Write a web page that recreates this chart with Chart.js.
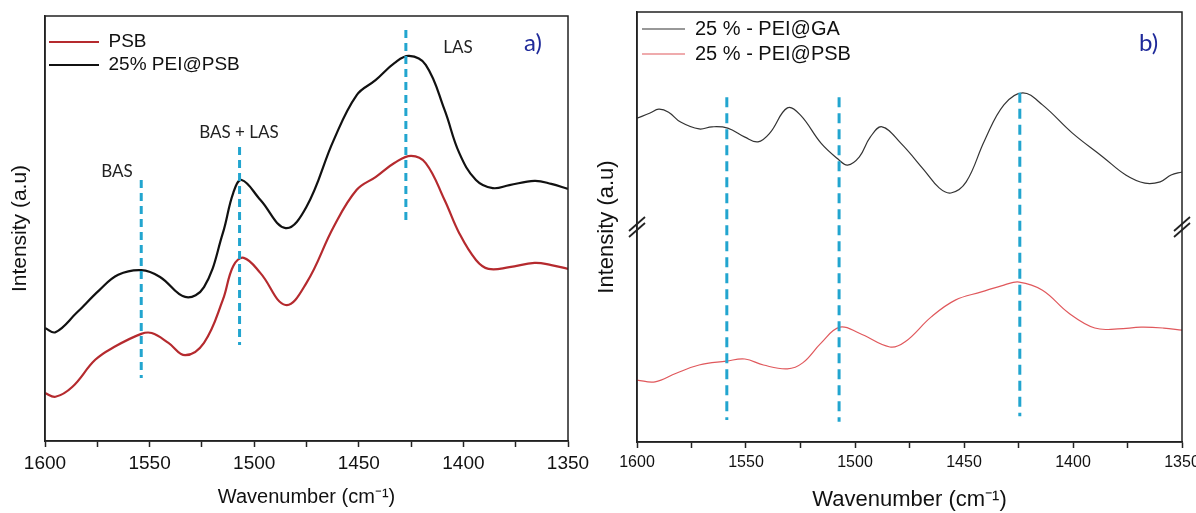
<!DOCTYPE html>
<html>
<head>
<meta charset="utf-8">
<script src="https://cdn.jsdelivr.net/npm/chart.js@4.4.1/dist/chart.umd.min.js"></script>
<style>
  html, body { margin: 0; padding: 0; background: #fff; }
  #wrap { position: relative; width: 1196px; height: 513px; overflow: hidden; }
  .panel { position: absolute; top: 0; height: 513px; }
  #panelA { left: 0; width: 590px; }
  #panelB { left: 590px; width: 606px; }
</style>
</head>
<body>
<div id="wrap">
  <div class="panel" id="panelA"><canvas id="chartA"></canvas></div>
  <div class="panel" id="panelB"><canvas id="chartB"></canvas></div>
</div>
<script>
// a) PSB vs 25% PEI@PSB  (wavenumber cm-1 / intensity a.u.)
var wnPSB = [1600, 1595, 1587, 1576, 1567, 1554, 1549, 1541, 1533, 1524, 1515, 1510, 1505, 1497, 1485, 1475,
  1462, 1451, 1442, 1433, 1425, 1418, 1409, 1402, 1394, 1388, 1378, 1366, 1358, 1350];
var intPSB = [0.113, 0.104, 0.127, 0.191, 0.221, 0.252, 0.254, 0.231, 0.202, 0.231, 0.332, 0.412, 0.431, 0.395, 0.320, 0.372,
  0.504, 0.591, 0.621, 0.654, 0.671, 0.654, 0.567, 0.489, 0.426, 0.405, 0.409, 0.419, 0.414, 0.405];

var wnPEI = [1600, 1595, 1585, 1574, 1565, 1554, 1545, 1533, 1524, 1515, 1510, 1506, 1497, 1485, 1475,
  1462, 1451, 1442, 1433, 1426, 1418, 1409, 1402, 1394, 1386, 1378, 1366, 1358, 1350];
var intPEI = [0.266, 0.256, 0.301, 0.355, 0.391, 0.402, 0.386, 0.339, 0.362, 0.489, 0.584, 0.614, 0.567, 0.501, 0.551,
  0.708, 0.814, 0.849, 0.889, 0.906, 0.885, 0.779, 0.678, 0.614, 0.595, 0.602, 0.612, 0.605, 0.593];

// dashed band markers in a)
var bandsA = [1554, 1507, 1427.5];
var bandsATop = [0.614, 0.692, 0.967];
var bandsABottom = [0.148, 0.226, 0.520];

// b) 25 % - PEI@GA vs 25 % - PEI@PSB
var wnGA = [1600, 1594, 1590, 1585.5, 1580, 1571.5, 1565.6, 1558.4, 1550.5, 1544.5, 1539, 1531, 1525, 1515.6,
  1507.8, 1503.4, 1498, 1493, 1487.6, 1479, 1468.4, 1461.4, 1456, 1449, 1440.5, 1431.7, 1423, 1414,
  1400.4, 1386.3, 1375.8, 1367, 1360, 1355, 1350];
var intGA = [0.753, 0.765, 0.774, 0.767, 0.744, 0.728, 0.733, 0.730, 0.709, 0.698, 0.719, 0.777, 0.760, 0.695,
  0.658, 0.644, 0.663, 0.709, 0.733, 0.695, 0.633, 0.591, 0.579, 0.605, 0.702, 0.784, 0.812, 0.784,
  0.719, 0.663, 0.621, 0.602, 0.605, 0.621, 0.628];

var wnGAPSB = [1600, 1591.7, 1582, 1571.5, 1559, 1550.5, 1542, 1531, 1524, 1515.6, 1507, 1498, 1484,
  1477, 1465, 1454, 1442, 1431.7, 1424.7, 1414, 1402, 1390, 1379.4, 1368.8, 1358.4, 1350];
var intGAPSB = [0.144, 0.140, 0.160, 0.179, 0.188, 0.193, 0.179, 0.170, 0.184, 0.230, 0.267, 0.253, 0.221,
  0.233, 0.291, 0.330, 0.349, 0.365, 0.372, 0.353, 0.300, 0.265, 0.263, 0.267, 0.265, 0.260];

var bandsB = [1558.8, 1507.3, 1424.4];
var bandsBTop = [0.802, 0.802, 0.812];
var bandsBBottom = [0.051, 0.047, 0.060];

var xTicks = [1600, 1550, 1500, 1450, 1400, 1350];

Chart.defaults.font.family = "'Liberation Sans', Arial, sans-serif";
Chart.defaults.color = '#111';
Chart.defaults.animation = false;

var AXIS = '#222';
var BAND = '#22a5cf';

function pts(xs, ys) {
  return xs.map(function (x, i) { return {x: x, y: ys[i]}; });
}

function bandSets(xs, tops, bottoms, dash) {
  return xs.map(function (x, i) {
    return {
      label: '', data: [{x: x, y: tops[i]}, {x: x, y: bottoms[i]}],
      borderColor: BAND, backgroundColor: BAND, borderWidth: 3, borderDash: dash,
      pointRadius: 0, tension: 0, order: 0
    };
  });
}

// box round the plot, notes and axis break marks
var framePlugin = {
  id: 'frame',
  afterDatasetsDraw: function (chart, args, opts) {
    var a = chart.chartArea, ctx = chart.ctx;
    var xs = chart.scales.x, ys = chart.scales.y;
    ctx.save();
    ctx.strokeStyle = AXIS;
    ctx.lineWidth = 1.5;
    ctx.strokeRect(a.left, a.top, a.right - a.left, a.bottom - a.top);

    (opts.notes || []).forEach(function (n) {
      ctx.font = n.font;
      ctx.fillStyle = n.color;
      ctx.textAlign = 'center';
      ctx.textBaseline = 'middle';
      ctx.fillText(n.text, xs.getPixelForValue(n.x), ys.getPixelForValue(n.y));
    });

    if (opts.breakAt != null) {
      var yb = ys.getPixelForValue(opts.breakAt);
      ctx.lineWidth = 1.8;
      [a.left, a.right].forEach(function (xe) {
        [-3, 3].forEach(function (k) {
          ctx.beginPath();
          ctx.moveTo(xe - 8, yb + 7 + k);
          ctx.lineTo(xe + 8, yb - 7 + k);
          ctx.stroke();
        });
      });
    }
    ctx.restore();
  }
};

function makeX(fontSize, titleSize, tickPad, titlePad, h) {
  return {
    type: 'linear', reverse: true, min: 1350, max: 1600,
    grid: { display: true, drawOnChartArea: false, drawTicks: true, tickLength: 6, tickColor: AXIS, tickWidth: 1.5 },
    border: { display: true, color: AXIS, width: 1.5 },
    ticks: {
      stepSize: 25, autoSkip: false, maxRotation: 0, padding: tickPad, color: '#111',
      font: { size: fontSize },
      callback: function (v) { return xTicks.indexOf(v) >= 0 ? String(v) : ''; }
    },
    title: { display: true, text: 'Wavenumber (cm⁻¹)', color: '#111', font: { size: titleSize }, padding: { top: 0, bottom: titlePad } },
    afterFit: function (s) { s.height = h; s.paddingLeft = 0; s.paddingRight = 0; }
  };
}

function makeY(titleSize, titlePad, w) {
  return {
    min: 0, max: 1,
    grid: { display: false },
    ticks: { display: false },
    border: { display: true, color: AXIS, width: 1.5 },
    title: { display: true, text: 'Intensity (a.u)', color: '#111', font: { size: titleSize }, padding: { top: titlePad, bottom: 0 } },
    afterFit: function (s) { s.width = w; }
  };
}

// legend sits inside the plot box; the empty title only pushes it down
function makeLegend(fontSize, pad, lineW, offset) {
  return {
    position: 'chartArea', align: 'start',
    labels: {
      usePointStyle: true, pointStyle: 'line', pointStyleWidth: lineW, padding: pad, color: '#111',
      font: { size: fontSize },
      filter: function (item) { return item.text !== ''; }
    },
    title: { display: true, text: '', font: { size: 1, lineHeight: 1 }, padding: { top: offset, bottom: 0 } }
  };
}

new Chart(document.getElementById('chartA'), {
  type: 'line',
  data: {
    datasets: [
      { label: 'PSB', data: pts(wnPSB, intPSB), borderColor: '#b52a2e', backgroundColor: '#b52a2e',
        borderWidth: 2.2, pointRadius: 0, tension: 0.4, order: 1 },
      { label: '25% PEI@PSB', data: pts(wnPEI, intPEI), borderColor: '#111', backgroundColor: '#111',
        borderWidth: 2.2, pointRadius: 0, tension: 0.4, order: 1 }
    ].concat(bandSets(bandsA, bandsATop, bandsABottom, [8, 5]))
  },
  options: {
    responsive: true, maintainAspectRatio: false, devicePixelRatio: 1,
    layout: { padding: { left: 0, right: 22, top: 16, bottom: 0 } },
    scales: { x: makeX(19, 20, 5, 4, 72), y: makeY(21, 8, 45) },
    plugins: {
      tooltip: { enabled: false },
      legend: makeLegend(19, 4, 50, 27.5),
      frame: {
        notes: [
          { text: 'BAS', x: 1565.6, y: 0.633, font: "17px Lato, 'Open Sans', sans-serif", color: '#222' },
          { text: 'BAS + LAS', x: 1507.3, y: 0.727, font: "17px Lato, 'Open Sans', sans-serif", color: '#222' },
          { text: 'LAS', x: 1402.6, y: 0.927, font: "17px Lato, 'Open Sans', sans-serif", color: '#222' },
          { text: 'a)', x: 1366.7, y: 0.936, font: "24px Lato, 'Open Sans', sans-serif", color: '#1f2a9a' }
        ]
      }
    }
  },
  plugins: [framePlugin]
});

new Chart(document.getElementById('chartB'), {
  type: 'line',
  data: {
    datasets: [
      { label: '25 % - PEI@GA', data: pts(wnGA, intGA), borderColor: '#333', backgroundColor: '#333',
        borderWidth: 1.2, pointRadius: 0, tension: 0.4, order: 1 },
      { label: '25 % - PEI@PSB', data: pts(wnGAPSB, intGAPSB), borderColor: '#e0585c', backgroundColor: '#e0585c',
        borderWidth: 1.2, pointRadius: 0, tension: 0.4, order: 1 }
    ].concat(bandSets(bandsB, bandsBTop, bandsBBottom, [10, 6]))
  },
  options: {
    responsive: true, maintainAspectRatio: false, devicePixelRatio: 1,
    layout: { padding: { left: 0, right: 14, top: 12, bottom: 0 } },
    scales: { x: makeX(16, 22, 5.4, 0, 71), y: makeY(22, 4, 47) },
    plugins: {
      tooltip: { enabled: false },
      legend: makeLegend(20, 5, 43, 13),
      frame: {
        breakAt: 0.5,
        notes: [
          { text: 'b)', x: 1365.3, y: 0.928, font: "24px Lato, 'Open Sans', sans-serif", color: '#1f2a9a' }
        ]
      }
    }
  },
  plugins: [framePlugin]
});
</script>
</body>
</html>
